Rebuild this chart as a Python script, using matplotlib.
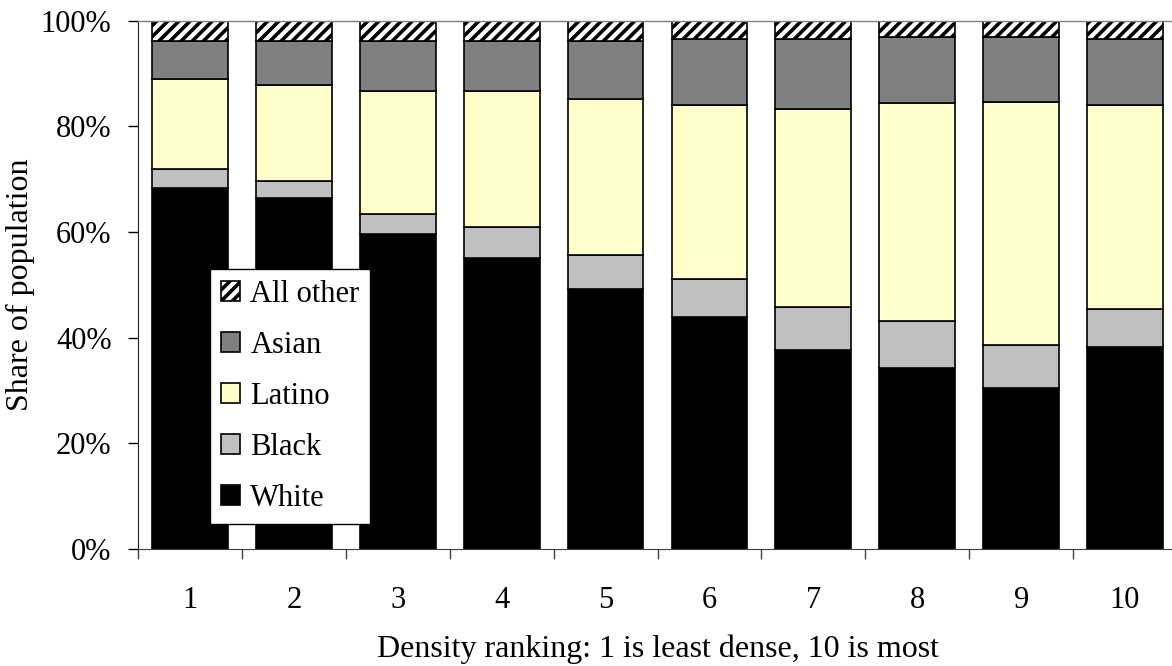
import numpy as np
import matplotlib
matplotlib.use("Agg")
import matplotlib.pyplot as plt
from matplotlib.ticker import FixedLocator, FuncFormatter

# Share of population (%) by density decile, bottom to top of each stack
ranks = ["1", "2", "3", "4", "5", "6", "7", "8", "9", "10"]
white = [68.3, 66.4, 59.6, 55.0, 49.3, 44.0, 37.7, 34.2, 30.4, 38.3]
black = [3.6, 3.3, 3.9, 6.0, 6.3, 7.1, 8.1, 9.0, 8.2, 7.1]
latino = [17.1, 18.1, 23.2, 25.7, 29.6, 32.9, 37.4, 41.2, 46.1, 38.6]
asian = [7.1, 8.3, 9.4, 9.4, 10.9, 12.5, 13.3, 12.5, 12.2, 12.5]
other = [3.9, 3.9, 3.9, 3.9, 3.9, 3.5, 3.5, 3.1, 3.1, 3.5]

plt.rcParams["font.family"] = ["Liberation Serif", "DejaVu Serif"]
plt.rcParams["hatch.linewidth"] = 2.6
plt.rcParams["hatch.color"] = "black"

fig = plt.figure(figsize=(11.72, 6.66), dpi=100)
ax = fig.add_axes([138 / 1172, 117 / 666, 1039 / 1172, 528.3 / 666])

x = np.arange(len(ranks))
width = 0.73
series = [
    ("White", white, "#000000", None),
    ("Black", black, "#c0c0c0", None),
    ("Latino", latino, "#ffffcc", None),
    ("Asian", asian, "#808080", None),
    ("All other", other, "#ffffff", "///"),
]

bottom = np.zeros(len(ranks))
handles = []
for name, vals, color, hatch in series:
    vals = np.array(vals)
    bars = ax.bar(x, vals, width, bottom=bottom, color=color, edgecolor="black",
                  linewidth=1.2, hatch=hatch, label=name)
    handles.append(bars)
    bottom += vals

ax.set_xlim(-0.5, len(ranks) - 0.5)
ax.set_ylim(0, 100)

# y axis: percent ticks pointing outward
ax.set_yticks(np.arange(0, 101, 20))
ax.yaxis.set_major_formatter(FuncFormatter(lambda v, _: f"{v:.0f}%"))
ax.tick_params(axis="y", direction="out", length=7, width=1, pad=12,
               labelsize=22, colors="black")

# x axis: labels at bar centres, tick marks between categories
ax.set_xticks(x)
ax.set_xticklabels(ranks)
ax.xaxis.set_minor_locator(FixedLocator(np.arange(-0.5, len(ranks) + 0.5, 1.0)))
ax.tick_params(axis="x", which="major", length=0, pad=27, labelsize=22)
ax.tick_params(axis="x", which="minor", direction="out", length=7, width=1,
               color="#404040")

ax.spines["left"].set_color("#202020")
ax.spines["bottom"].set_color("#404040")
ax.spines["top"].set_color("#808080")
ax.spines["top"].set_linewidth(1)
ax.spines["right"].set_visible(False)

ax.set_ylabel("Share of population", fontsize=23, labelpad=4)
ax.set_xlabel("Density ranking: 1 is least dense, 10 is most", fontsize=23,
              labelpad=14)

leg = ax.legend(handles[::-1], [s[0] for s in series[::-1]],
                loc="upper left", bbox_to_anchor=(0.0693, 0.5294),
                borderaxespad=0, fontsize=22, frameon=True, fancybox=False,
                edgecolor="black", framealpha=1, borderpad=0.35,
                labelspacing=0.72, handlelength=0.62, handleheight=0.62,
                handletextpad=0.35)
leg.get_frame().set_linewidth(1)

fig.savefig("out.png", dpi=100)
